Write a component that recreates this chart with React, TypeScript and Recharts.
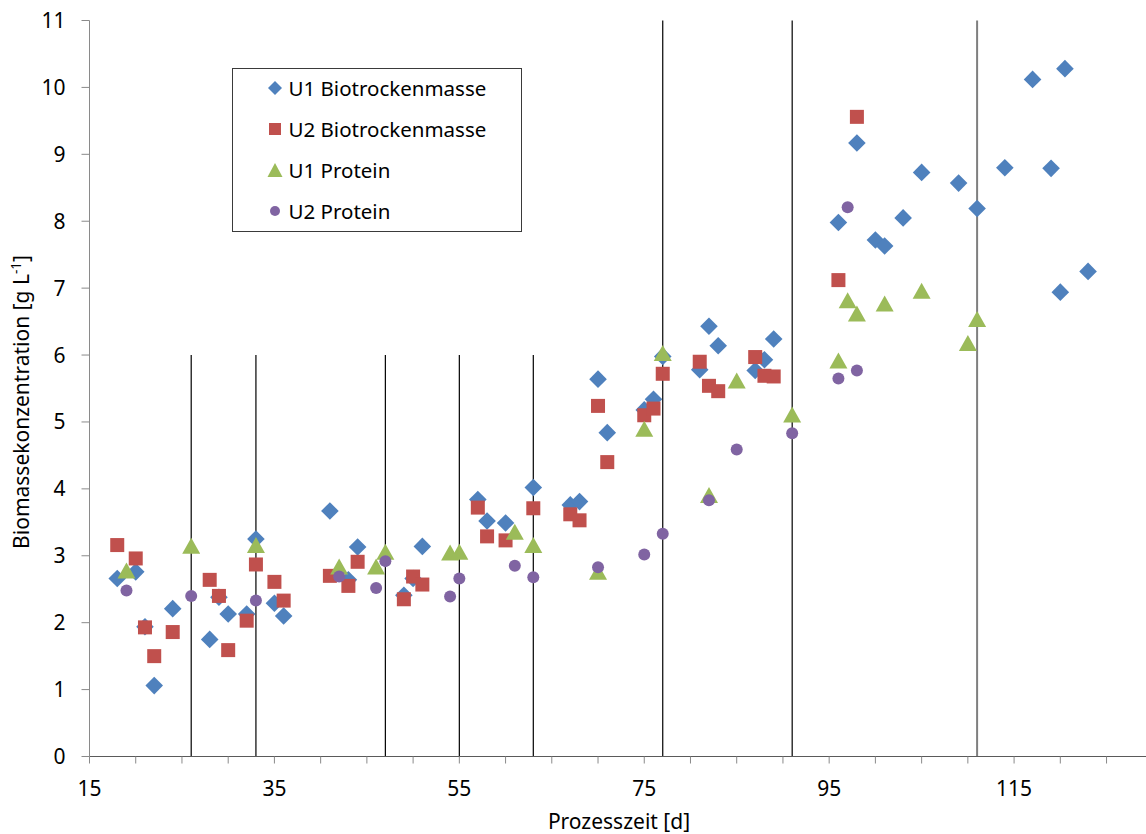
import React from 'react';
import { ScatterChart, Scatter, XAxis, YAxis, ReferenceLine, Legend } from 'recharts';

// ---- data ----
const U1_BTM_DAYS = [18, 20, 21, 22, 24, 28, 29, 30, 32, 33, 35, 36, 41, 43, 44, 49, 50, 51, 57, 58, 60, 63, 67, 68, 70, 71, 75, 76, 77, 81, 82, 83, 87, 88, 89, 96, 98, 100, 101, 103, 105, 109, 111, 114, 117, 119, 120, 120.5, 123];
const U1_BTM_VALUES = [2.66, 2.76, 1.94, 1.06, 2.21, 1.75, 2.38, 2.13, 2.13, 3.25, 2.29, 2.10, 3.67, 2.64, 3.13, 2.41, 2.66, 3.14, 3.84, 3.52, 3.49, 4.02, 3.76, 3.81, 5.64, 4.84, 5.18, 5.34, 5.98, 5.78, 6.43, 6.14, 5.77, 5.93, 6.24, 7.98, 9.17, 7.72, 7.63, 8.05, 8.73, 8.57, 8.19, 8.80, 10.12, 8.79, 6.94, 10.28, 7.25];

const U2_BTM_DAYS = [18, 20, 21, 22, 24, 28, 29, 30, 32, 33, 35, 36, 41, 43, 44, 49, 50, 51, 57, 58, 60, 63, 67, 68, 70, 71, 75, 76, 77, 81, 82, 83, 87, 88, 89, 96, 98];
const U2_BTM_VALUES = [3.16, 2.96, 1.93, 1.50, 1.86, 2.64, 2.40, 1.59, 2.03, 2.87, 2.61, 2.33, 2.70, 2.55, 2.91, 2.35, 2.69, 2.57, 3.72, 3.29, 3.23, 3.71, 3.62, 3.53, 5.24, 4.40, 5.10, 5.20, 5.72, 5.90, 5.54, 5.46, 5.97, 5.69, 5.68, 7.12, 9.56];

const U1_PROT_DAYS = [19, 26, 33, 42, 46, 47, 54, 55, 61, 63, 70, 75, 77, 82, 85, 91, 96, 97, 98, 101, 105, 110, 111];
const U1_PROT_VALUES = [2.78, 3.15, 3.16, 2.84, 2.84, 3.06, 3.05, 3.06, 3.36, 3.16, 2.76, 4.90, 6.03, 3.91, 5.62, 5.11, 5.92, 6.82, 6.62, 6.77, 6.96, 6.18, 6.54];

const U2_PROT_DAYS = [19, 26, 33, 42, 46, 47, 54, 55, 61, 63, 70, 75, 77, 82, 85, 91, 96, 97, 98];
const U2_PROT_VALUES = [2.48, 2.40, 2.33, 2.69, 2.52, 2.92, 2.39, 2.66, 2.85, 2.68, 2.83, 3.02, 3.33, 3.83, 4.59, 4.83, 5.65, 8.21, 5.77];

const SERIES_NAMES = ['U1 Biotrockenmasse', 'U2 Biotrockenmasse', 'U1 Protein', 'U2 Protein'];
const SERIES_COLORS = ['#4F81BD', '#C0504D', '#9BBB59', '#8064A2'];

// phase change markers (days)
const PHASE_SHORT_DAYS = [26, 33, 47, 55, 63];
const PHASE_SHORT_TOP = 6;
const PHASE_LONG_DAYS = [77, 91];
const PHASE_GRAY_DAYS = [111];
const PHASE_LONG_TOP = 11;

const X_TICKS = [15, 20, 25, 30, 35, 40, 45, 50, 55, 60, 65, 70, 75, 80, 85, 90, 95, 100, 105, 110, 115, 120, 125, 130, 135];
const X_LABEL_TICKS = [15, 35, 55, 75, 95, 115];
const Y_TICKS = [0, 1, 2, 3, 4, 5, 6, 7, 8, 9, 10, 11];

const X_TITLE = 'Prozesszeit [d]';
const Y_TITLE = 'Biomassekonzentration [g L';

const FONT = '"Noto Sans", "Open Sans", sans-serif';

const zip = (days: number[], vals: number[]) => days.map((x, i) => ({ x, y: vals[i] }));

// ---- marker shapes ----
const diamondPath = (cx: number, cy: number, r: number) => `M${cx},${cy - r}L${cx + r},${cy}L${cx},${cy + r}L${cx - r},${cy}Z`;
const trianglePath = (cx: number, cy: number, w: number, h: number) => `M${cx},${cy - h / 2}L${cx + w / 2},${cy + h / 2}L${cx - w / 2},${cy + h / 2}Z`;

const DiamondShape = (p: any) => <path d={diamondPath(p.cx, p.cy, 8.8)} fill={SERIES_COLORS[0]} />;
const SquareShape = (p: any) => <rect x={p.cx - 7} y={p.cy - 7} width={14} height={14} fill={SERIES_COLORS[1]} />;
const TriangleShape = (p: any) => <path d={trianglePath(p.cx, p.cy, 18, 16)} fill={SERIES_COLORS[2]} />;
const CircleShape = (p: any) => <circle cx={p.cx} cy={p.cy} r={6} fill={SERIES_COLORS[3]} />;

const legendMarker = (i: number) => {
  const c = SERIES_COLORS[i];
  if (i === 0) return <path d={diamondPath(9, 9, 7)} fill={c} />;
  if (i === 1) return <rect x={3} y={3} width={12} height={12} fill={c} />;
  if (i === 2) return <path d={trianglePath(9, 9, 15, 14)} fill={c} />;
  return <circle cx={9} cy={9} r={5} fill={c} />;
};

const LEGEND_ROW_CENTERS = [19, 60, 101, 142];

const renderLegend = () => (
  <div style={{ position: 'relative', width: 290, height: 164, boxSizing: 'border-box', border: '1px solid #3a3a3a', background: '#fff', fontFamily: FONT, fontSize: 20.5, color: '#000' }}>
    {SERIES_NAMES.map((name, i) => (
      <div key={i} style={{ position: 'absolute', left: 33, top: LEGEND_ROW_CENTERS[i] - 15, height: 30, lineHeight: '30px', whiteSpace: 'nowrap', display: 'flex', alignItems: 'center' }}>
        <svg width={18} height={18} style={{ marginRight: 5 }}>{legendMarker(i)}</svg>
        <span>{name}</span>
      </div>
    ))}
  </div>
);

const XTick = (props: any) => {
  const { x, payload } = props;
  if (!X_LABEL_TICKS.includes(payload.value)) return <g />;
  return (
    <text x={x} y={796} textAnchor="middle" fontFamily={FONT} fontSize={21} fill="#000">{payload.value}</text>
  );
};

const XTitle = () => (
  <text x={619} y={829} textAnchor="middle" fontFamily={FONT} fontSize={21} fill="#000">{X_TITLE}</text>
);

const YTitle = () => (
  <text x={29} y={402} transform="rotate(-90, 29, 402)" textAnchor="middle" fontFamily={FONT} fontSize={21} fill="#000">
    {Y_TITLE}
    <tspan fontSize={13.5} dy={-8}>-1</tspan>
    <tspan dy={8}>]</tspan>
  </text>
);

export default function App() {
  return (
    <div style={{ position: 'absolute', left: 0, top: 0, width: 1146, height: 834, overflow: 'hidden', background: '#fff' }}>
      <ScatterChart width={1199} height={834} margin={{ top: 20.5, right: 0, bottom: 0, left: 0.5 }}>
        <XAxis
          type="number"
          dataKey="x"
          domain={[15, 135]}
          ticks={X_TICKS}
          interval={0}
          height={77.5}
          tickSize={7}
          tick={XTick}
          axisLine={{ stroke: '#5a5a5a', strokeWidth: 1 }}
          tickLine={{ stroke: '#8a8a8a' }}
          allowDataOverflow
          label={<XTitle />}
        />
        <YAxis
          type="number"
          dataKey="y"
          domain={[0, 11]}
          ticks={Y_TICKS}
          interval={0}
          width={89}
          tickSize={8}
          tickMargin={16}
          tick={{ fill: '#000', fontSize: 21, fontFamily: FONT }}
          axisLine={{ stroke: '#8a8a8a' }}
          tickLine={{ stroke: '#8a8a8a' }}
          label={<YTitle />}
        />
        {PHASE_SHORT_DAYS.map((d) => (
          <ReferenceLine key={'s' + d} segment={[{ x: d, y: 0 }, { x: d, y: PHASE_SHORT_TOP }]} stroke="#000" strokeWidth={1.2} ifOverflow="visible" />
        ))}
        {PHASE_LONG_DAYS.map((d) => (
          <ReferenceLine key={'l' + d} segment={[{ x: d, y: 0 }, { x: d, y: PHASE_LONG_TOP }]} stroke="#000" strokeWidth={1.2} ifOverflow="visible" />
        ))}
        {PHASE_GRAY_DAYS.map((d) => (
          <ReferenceLine key={'g' + d} segment={[{ x: d, y: 0 }, { x: d, y: PHASE_LONG_TOP }]} stroke="#7f7f7f" strokeWidth={2} ifOverflow="visible" />
        ))}
        <Scatter name={SERIES_NAMES[0]} data={zip(U1_BTM_DAYS, U1_BTM_VALUES)} fill={SERIES_COLORS[0]} shape={DiamondShape} isAnimationActive={false} />
        <Scatter name={SERIES_NAMES[1]} data={zip(U2_BTM_DAYS, U2_BTM_VALUES)} fill={SERIES_COLORS[1]} shape={SquareShape} isAnimationActive={false} />
        <Scatter name={SERIES_NAMES[2]} data={zip(U1_PROT_DAYS, U1_PROT_VALUES)} fill={SERIES_COLORS[2]} shape={TriangleShape} isAnimationActive={false} />
        <Scatter name={SERIES_NAMES[3]} data={zip(U2_PROT_DAYS, U2_PROT_VALUES)} fill={SERIES_COLORS[3]} shape={CircleShape} isAnimationActive={false} />
        <Legend
          layout="vertical"
          align="center"
          verticalAlign="middle"
          content={renderLegend}
          wrapperStyle={{ position: 'absolute', left: 231.5, top: 67.5, width: 290, height: 164 }}
        />
      </ScatterChart>
    </div>
  );
}
